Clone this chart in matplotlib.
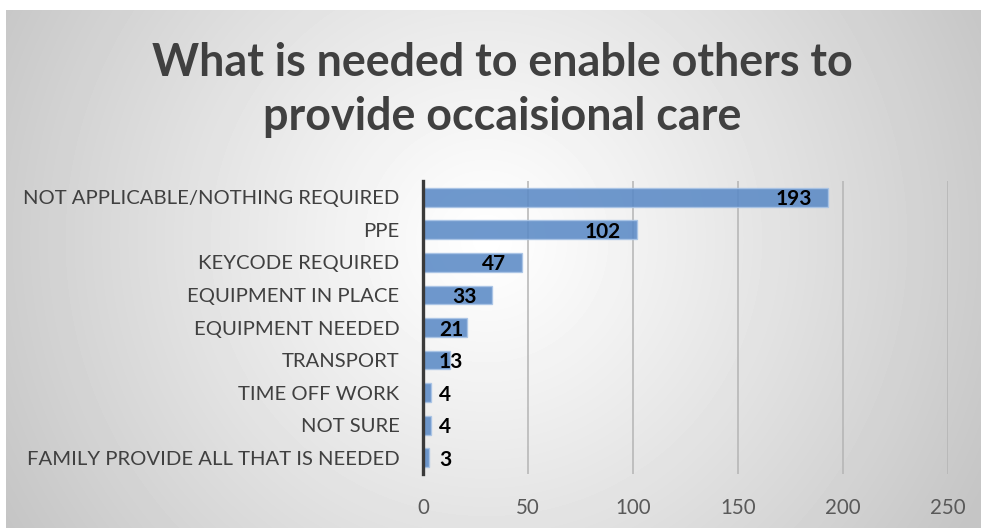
import numpy as np
import matplotlib.pyplot as plt

plt.rcParams['font.family'] = ['Lato', 'DejaVu Sans']

categories = [
    "NOT APPLICABLE/NOTHING REQUIRED",
    "PPE",
    "KEYCODE REQUIRED",
    "EQUIPMENT IN PLACE",
    "EQUIPMENT NEEDED",
    "TRANSPORT",
    "TIME OFF WORK",
    "NOT SURE",
    "FAMILY PROVIDE ALL THAT IS NEEDED",
]
counts = [193, 102, 47, 33, 21, 13, 4, 4, 3]
x_ticks = [0, 50, 100, 150, 200, 250]
title = "What is needed to enable others to\nprovide occaisional care"

W, H = 981, 528
fig = plt.figure(figsize=(W / 100, H / 100), dpi=100)
fig.patch.set_facecolor("white")

# radial grey background of the chart panel
bg = fig.add_axes([6 / W, 0, 1 - 6 / W, (H - 10) / H])
yy, xx = np.mgrid[0:518, 0:975]
cx, cy = 480, 230
r = np.hypot(xx - cx, yy - cy) / 560
shade = 1 - (1 - 0.77) * np.clip(r, 0, 1) ** 1.1
bg.imshow(shade, cmap="gray", vmin=0, vmax=1, aspect="auto",
          interpolation="bilinear")
bg.set_axis_off()

ax = fig.add_axes([423 / W, (H - 474) / H, (948 - 423) / W, (474 - 181) / H])
ax.set_facecolor("none")

y = np.arange(len(categories))
ax.barh(y, counts, height=0.58, color="#5b8ac6", alpha=0.88,
        edgecolor="#a9c4e6", linewidth=1.0, zorder=3)

# labels sit inside the bar end; short bars get them pinned near the axis
for yi, v in zip(y, counts):
    if v >= 30:
        ax.annotate(str(v), (v, yi), xytext=(-11.5, -1.5), textcoords="offset points",
                    ha="right", va="center", fontsize=15, fontweight="bold",
                    color="black", zorder=4)
    else:
        ax.annotate(str(v), (0, yi), xytext=(11.5, -1.5), textcoords="offset points",
                    ha="left", va="center", fontsize=15, fontweight="bold",
                    color="black", zorder=4)

ax.set_xlim(0, 250)
ax.set_ylim(len(categories) - 0.5, -0.5)
ax.set_xticks(x_ticks)
ax.set_yticks(y)
ax.set_yticklabels(categories)
ax.tick_params(axis="x", length=0, pad=17, labelsize=14.8, labelcolor="#595959")
ax.tick_params(axis="y", length=0, pad=17, labelsize=14.6, labelcolor="#404040")
ax.grid(axis="x", color="#b4b4b4", linewidth=1.1, zorder=0)
for s in ("top", "right", "bottom"):
    ax.spines[s].set_visible(False)
ax.spines["left"].set_color("#3a3a3a")
ax.spines["left"].set_linewidth(2.4)
ax.spines["left"].set_zorder(5)

fig.text(502 / W, 1 - 90 / H, title, ha="center", va="center",
         fontsize=32.3, fontweight="bold", color="#404040", linespacing=1.38)

fig.savefig("out.png", dpi=100)
